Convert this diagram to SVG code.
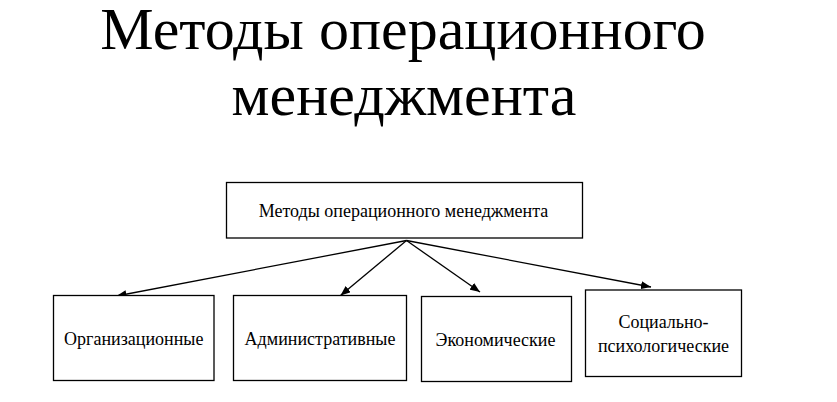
<svg xmlns="http://www.w3.org/2000/svg" width="837" height="402" viewBox="0 0 837 402">
<defs>
<style>
.box{fill:#fff;stroke:#000;stroke-width:1.3}
.t{font-family:"Liberation Serif","Times New Roman",serif;font-size:18px;fill:#000;text-anchor:middle}
.title{font-family:"Liberation Serif","Times New Roman",serif;font-size:60px;fill:#000;text-anchor:middle}
.c{stroke:#000;stroke-width:1.3;fill:none;marker-end:url(#ah)}
</style>
<marker id="ah" viewBox="0 0 10 8" refX="10" refY="4" markerWidth="10" markerHeight="8" markerUnits="userSpaceOnUse" orient="auto">
<path d="M0,0 L10,4 L0,8 Z" fill="#000"/>
</marker>
</defs>
<rect width="837" height="402" fill="#fff"/>
<g id="title">
<text class="title" x="403" y="49">Методы операционного</text>
<text class="title" x="404" y="115">менеджмента</text>
</g>
<g id="connectors">
<line class="c" x1="406.5" y1="240.5" x2="116.5" y2="296"/>
<line class="c" x1="406.5" y1="240.5" x2="340.5" y2="295.5"/>
<line class="c" x1="406.5" y1="240.5" x2="480" y2="292"/>
<line class="c" x1="406.5" y1="240.5" x2="651" y2="287"/>
</g>
<g id="root">
<rect class="box" x="226.5" y="182.5" width="356" height="55.5"/>
<text class="t" x="403.5" y="217">Методы операционного менеджмента</text>
</g>
<g id="n1">
<rect class="box" x="53.5" y="295.5" width="160.5" height="85"/>
<text class="t" x="133.75" y="345">Организационные</text>
</g>
<g id="n2">
<rect class="box" x="233.5" y="295.5" width="173" height="85"/>
<text class="t" x="320" y="345">Административные</text>
</g>
<g id="n3">
<rect class="box" x="421.5" y="296.5" width="150" height="85"/>
<text class="t" x="495.5" y="346">Экономические</text>
</g>
<g id="n4">
<rect class="box" x="585.5" y="290" width="156" height="86.5"/>
<text class="t" x="663.5" y="328">Социально-</text>
<text class="t" x="663.5" y="352">психологические</text>
</g>
</svg>
